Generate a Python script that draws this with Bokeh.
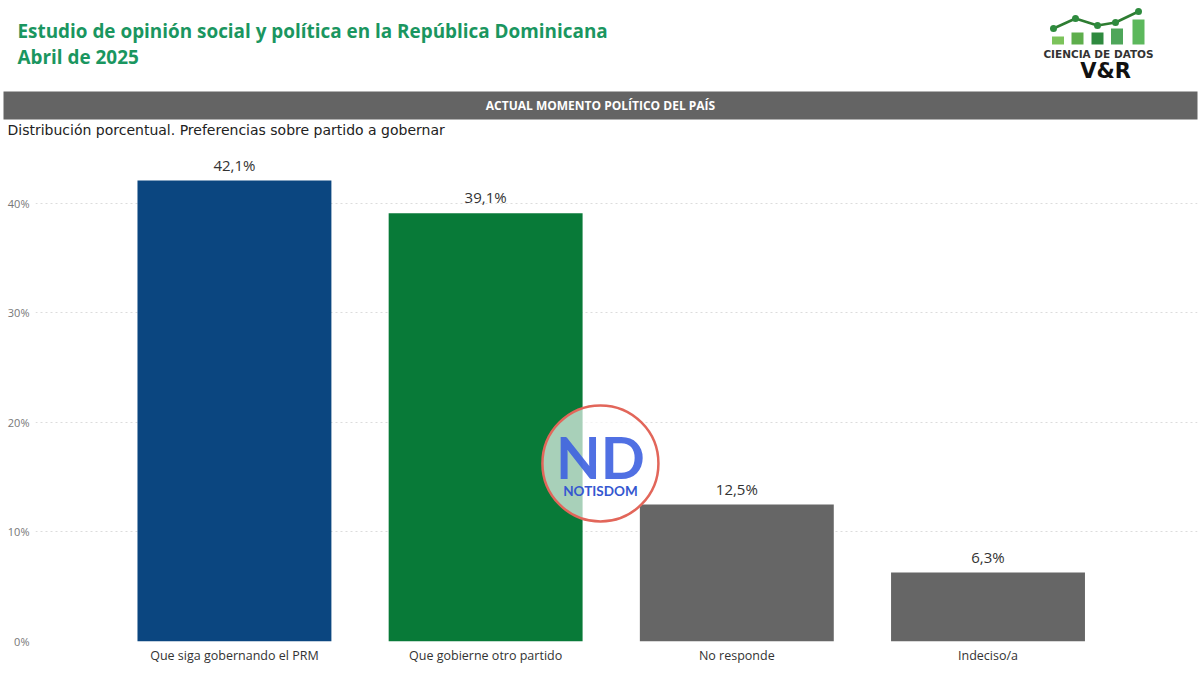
from bokeh.plotting import figure
from bokeh.models import Range1d, FixedTicker, ColumnDataSource
from bokeh.core.properties import value
from bokeh.embed import file_html
from bokeh.resources import INLINE

# ---------------- data ----------------
categories = ["Que siga gobernando el PRM", "Que gobierne otro partido", "No responde", "Indeciso/a"]
values = [42.1, 39.1, 12.5, 6.3]
bar_colors = ["#0b4680", "#087a38", "#666666", "#666666"]
y_ticks = [0, 10, 20, 30, 40]
y_tick_labels = ["0%", "10%", "20%", "30%", "40%"]

title_lines = ["Estudio de opinión social y política en la República Dominicana", "Abril de 2025"]
band_text = "ACTUAL MOMENTO POLÍTICO DEL PAÍS"
subtitle = "Distribución porcentual. Preferencias sobre partido a gobernar"

# logo (decoration, page pixel coords)
logo_bar_x = [1057.5, 1077, 1097, 1116.5, 1138]
logo_bar_top = [36, 32, 32, 28, 19]
logo_bar_colors = ["#7cc35b", "#5eae4c", "#2f8a3f", "#4ea65a", "#5cb85c"]
logo_line_x = [1053, 1075, 1097, 1115, 1138]
logo_line_y = [28, 18, 25, 22, 11]

W = 1200
HEAD_H = 140
MAIN_H = 540

# ---------------- header ----------------
h = figure(width=W, height=HEAD_H, x_range=Range1d(0, W), y_range=Range1d(HEAD_H, 0),
           output_backend="svg", toolbar_location=None, min_border=0)
h.axis.visible = False
h.grid.visible = False
h.outline_line_color = None
h.background_fill_color = "white"
h.border_fill_color = "white"

h.text(x=[17, 17], y=[30, 56], text=title_lines, text_font=value("Open Sans"),
       text_font_style="bold", text_font_size="18.9px", text_color="#1a9660",
       text_baseline="middle", text_align="left")

# grey band
h.quad(left=[3], right=[1197], top=[91], bottom=[119], fill_color="#646464", line_color=None)
h.text(x=[600], y=[105], text=[band_text], text_font=value("Open Sans"), text_font_style="bold",
       text_font_size="12px", text_color="white", text_baseline="middle", text_align="center")

h.text(x=[7], y=[129], text=[subtitle], text_font=value("DejaVu Sans"), text_font_size="14px",
       text_color="#222222", text_baseline="middle", text_align="left")

# logo
h.vbar(x=logo_bar_x, width=12, bottom=44, top=logo_bar_top,
       fill_color=logo_bar_colors, line_color=None)
h.line(x=logo_line_x, y=logo_line_y, line_color="#2e7d32", line_width=2.5)
h.scatter(x=logo_line_x, y=logo_line_y, size=7, fill_color="#2e8b3e", line_color=None)
h.text(x=[1098], y=[53.5], text=["CIENCIA DE DATOS"], text_font=value("DejaVu Sans"), text_font_style="bold",
       text_font_size="10.5px", text_color="#333333", text_baseline="alphabetic", text_align="center")
h.text(x=[1105], y=[70], text=["V&R"], text_font=value("DejaVu Sans"), text_font_style="bold",
       text_font_size="21px", text_color="#111111", text_baseline="alphabetic", text_align="center")

# ---------------- main chart ----------------
n = len(categories)
xs = list(range(n))
src = ColumnDataSource(dict(x=xs, top=values, color=bar_colors,
                            label=[f"{v:.1f}".replace(".", ",") + "%" for v in values]))

p = figure(width=W, height=MAIN_H, x_range=Range1d(-0.792, 3.834), y_range=Range1d(0, 44.84),
           output_backend="svg", toolbar_location=None,
           min_border_left=35, min_border_right=3, min_border_top=10, min_border_bottom=39)
p.outline_line_color = None
p.background_fill_color = "white"
p.border_fill_color = "white"

p.vbar(x="x", top="top", bottom=0, width=0.772, fill_color="color", line_color=None, source=src)
p.text(x="x", y="top", text="label", source=src, text_font=value("Open Sans"), text_font_size="15px",
       text_color="#333333", text_align="center", text_baseline="bottom", y_offset=-6)

# axes
p.yaxis.ticker = FixedTicker(ticks=y_ticks)
p.yaxis.major_label_overrides = {t: l for t, l in zip(y_ticks, y_tick_labels)}
p.yaxis.axis_line_color = None
p.yaxis.major_tick_line_color = None
p.yaxis.major_tick_out = 0
p.yaxis.major_tick_in = 0
p.yaxis.minor_tick_line_color = None
p.yaxis.major_label_text_font = "Open Sans"
p.yaxis.major_label_text_font_size = "11px"
p.yaxis.major_label_text_color = "#777777"
p.yaxis.major_label_standoff = 6

p.xaxis.ticker = FixedTicker(ticks=xs)
p.xaxis.major_label_overrides = {i: c for i, c in zip(xs, categories)}
p.xaxis.axis_line_color = None
p.xaxis.major_tick_line_color = None
p.xaxis.major_tick_out = 0
p.xaxis.major_tick_in = 0
p.xaxis.minor_tick_line_color = None
p.xaxis.major_label_text_font = "Open Sans"
p.xaxis.major_label_text_font_size = "12.5px"
p.xaxis.major_label_text_color = "#333333"
p.xaxis.major_label_standoff = 5

p.xgrid.grid_line_color = None
p.ygrid.ticker = FixedTicker(ticks=y_ticks)
p.ygrid.grid_line_color = "#dcdcdc"
p.ygrid.grid_line_dash = "2 3"
p.ygrid.grid_line_width = 1
p.ygrid.level = "underlay"

# watermark (decoration)
p.scatter(x=[1.457], y=[16.26], size=116, fill_color="white", fill_alpha=0.65,
          line_color="#e2665a", line_width=2.5)
p.text(x=[1.457], y=[16.9], text=["ND"], text_font=value("Lato"), text_font_style="bold",
       text_font_size="58px", text_color="#3d60e0", text_alpha=0.9,
       text_align="center", text_baseline="middle")
p.text(x=[1.457], y=[13.7], text=["NOTISDOM"], text_font=value("Lato"), text_font_style="bold",
       text_font_size="13.5px", text_color="#3557d0", text_align="center", text_baseline="middle")

open("out.html", "w").write(file_html([h, p], INLINE))
